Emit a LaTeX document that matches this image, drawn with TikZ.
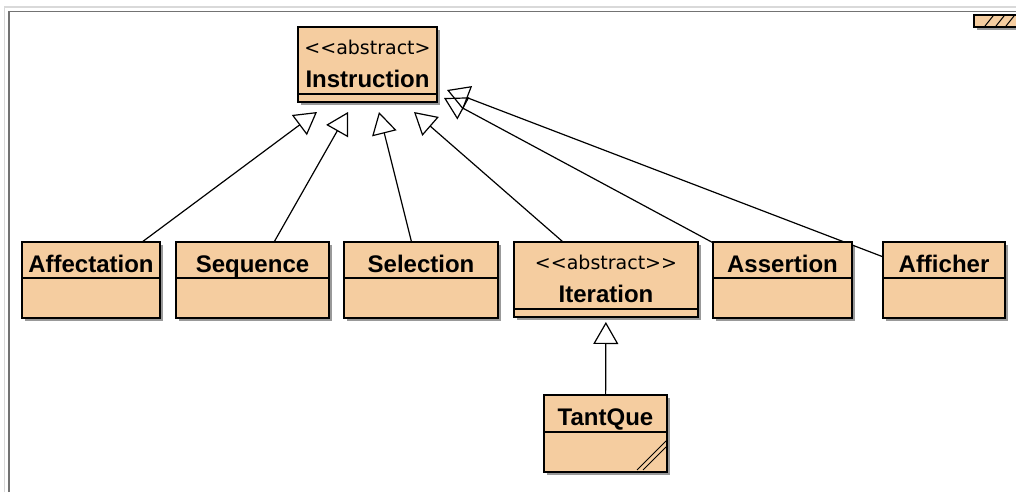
\documentclass[tikz,border=0pt]{standalone}
\usepackage{fontspec}
\setmainfont{Liberation Sans}
\newfontfamily\stfont{DejaVu Sans}
\usetikzlibrary{arrows.meta,shadows}
\definecolor{classfill}{RGB}{245,205,160}
\pgfdeclarelayer{bg}
\pgfsetlayers{bg,main}
\tikzset{
  cls/.style={draw=black, line width=1.4pt, fill=classfill, inner sep=0pt, outer sep=0pt,
    anchor=north west,
    drop shadow={shadow xshift=3pt, shadow yshift=-3pt, fill=black, opacity=0.4}},
  sep/.style={draw=black, line width=1.4pt},
  nm/.style={anchor=base, inner sep=0pt, font={\fontsize{24}{28}\selectfont\bfseries}},
  st/.style={anchor=base, inner sep=0pt, font={\stfont\fontsize{19}{22}\selectfont}},
  gen/.style={line width=1.2pt,
    -{Triangle[open, length=22pt, width=25pt, line width=1.2pt]}},
}
\begin{document}
\begin{tikzpicture}[x=1pt, y=-1pt]
\useasboundingbox (0,0) rectangle (1016,492);

% window frame
\draw[black!15, line width=1.3pt] (4.5,492) -- (4.5,7) -- (1016,7);
\draw[black!55, line width=1.5pt] (9,492) -- (9,11.5) -- (1016,11.5);

% partially visible class at the top right corner
\fill[black!40] (977,18) rectangle (1016,30);
\draw[fill=classfill, line width=1.4pt] (974,15) rectangle (1018,27);
\begin{scope}
  \clip (974,15) rectangle (1016,27);
  \foreach \hx in {985,996,1006} {
    \draw[black, line width=1pt] (\hx,26) -- (\hx+8,16);
  }
\end{scope}

% abstract root class
\node[cls, minimum width=139pt, minimum height=75pt] (instr) at (298,27) {};
\draw[sep] (instr.west |- 0,94) -- (instr.east |- 0,94);
\node[st] (instr-st) at (instr.north |- 0,55) {<\kern0pt<abstract>};
\node[nm] (instr-nm) at (instr.north |- 0,88) {Instruction};

% concrete subclasses
\node[cls, minimum width=138pt, minimum height=76pt] (aff) at (22,242) {};
\draw[sep] (aff.west |- 0,278) -- (aff.east |- 0,278);
\node[nm] (aff-nm) at (aff.north |- 0,272.5) {Affectation};

\node[cls, minimum width=153pt, minimum height=76pt] (seq) at (176,242) {};
\draw[sep] (seq.west |- 0,278) -- (seq.east |- 0,278);
\node[nm] (seq-nm) at (seq.north |- 0,272.5) {Sequence};

\node[cls, minimum width=154pt, minimum height=76pt] (sel) at (344,242) {};
\draw[sep] (sel.west |- 0,278) -- (sel.east |- 0,278);
\node[nm] (sel-nm) at (sel.north |- 0,272.5) {Selection};

\node[cls, minimum width=184pt, minimum height=75pt] (iter) at (514,242) {};
\draw[sep] (iter.west |- 0,309) -- (iter.east |- 0,309);
\node[st] (iter-st) at (iter.north |- 0,269) {<\kern0pt<abstract>\kern0pt>};
\node[nm] (iter-nm) at (iter.north |- 0,302.5) {Iteration};

\node[cls, minimum width=139pt, minimum height=76pt] (assert) at (713,242) {};
\draw[sep] (assert.west |- 0,278) -- (assert.east |- 0,278);
\node[nm] (assert-nm) at (assert.north |- 0,272.5) {Assertion};

\node[cls, minimum width=122pt, minimum height=76pt] (aff2) at (883,242) {};
\draw[sep] (aff2.west |- 0,278) -- (aff2.east |- 0,278);
\node[nm] (aff2-nm) at (aff2.north |- 0,272.5) {Afficher};

% leaf class with thick border and corner marks
\node[cls, line width=2.4pt, minimum width=123pt, minimum height=77pt] (tq) at (544,395) {};
\draw[sep] (tq.west |- 0,432) -- (tq.east |- 0,432);
\node[nm] (tq-nm) at (tq.north |- 0,425) {TantQue};
\draw[line width=1pt] (637,470) -- (666,441);
\draw[line width=1pt] (643,470) -- (666,447);

% arrow tip positions below the root class
\coordinate (t1) at (317,112);
\coordinate (t2) at (348,112);
\coordinate (t3) at (379,112);
\coordinate (t4) at (414,112);
\coordinate (t5) at (444,98);
\coordinate (t6) at (447,90);

% generalisation links, kept behind the boxes
\begin{pgfonlayer}{bg}
  \draw[gen] (aff) -- (t1);
  \draw[gen] (seq) -- (t2);
  \draw[gen] (sel) -- (t3);
  \draw[gen] (iter) -- (t4);
  \draw[gen] (assert) -- (t5);
  \draw[gen] (aff2) -- (t6);
  \draw[gen, shorten >=5pt] (tq) -- (iter);
\end{pgfonlayer}
\end{tikzpicture}
\end{document}
